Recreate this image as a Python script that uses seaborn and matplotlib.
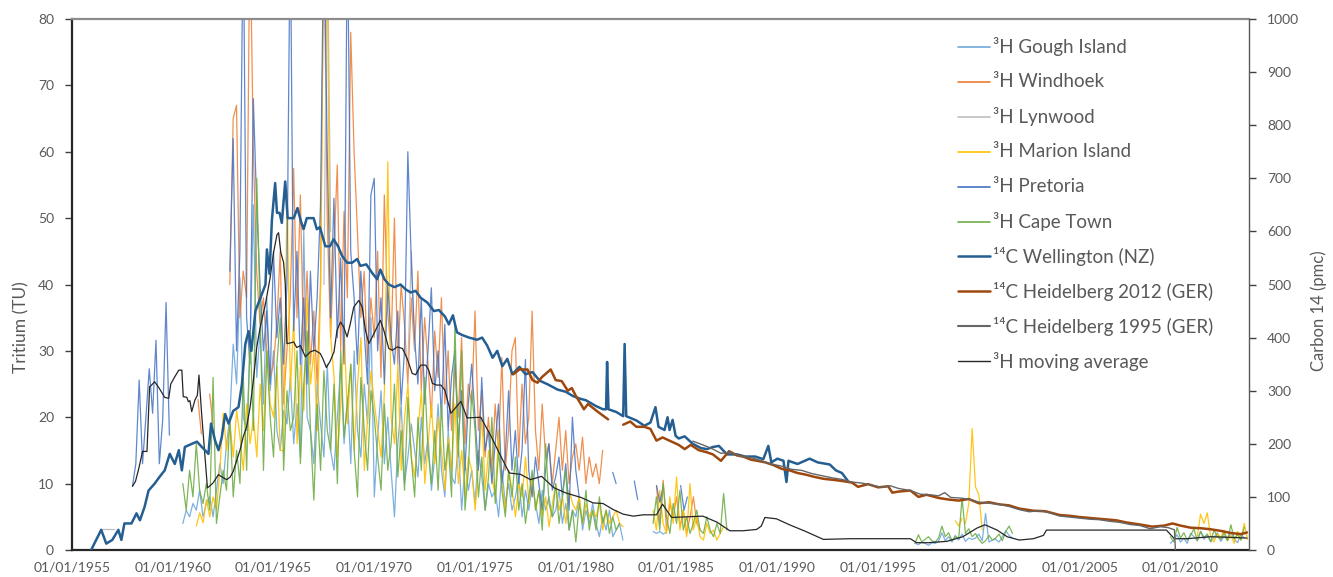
import numpy as np
import pandas as pd
import matplotlib
matplotlib.use("Agg")
import matplotlib.pyplot as plt
import seaborn as sns
from matplotlib.lines import Line2D

STEP = 1.0 / 6.0  # bimonthly tritium samples

# ---------------- Tritium (TU), segments of bimonthly values ----------------
gough_start = [1960.5, 1983.83, 1996.83, 2009.5]
gough_tu = [
    [4, 6, 5,
     7, 6, 9, 5, 7, 8,
     5, 9, 13, 10, 16, 20,
     31, 25, 41, 20, 18, 30,
     52, 26, 33, 22, 38, 24,
     30, 18, 15, 21, 19, 26,
     16, 22, 14, 48, 20, 18,
     13, 25, 19, 14, 28, 15,
     12, 20, 28, 16, 23, 13,
     30, 18, 14, 25, 19, 35,
     8, 17, 24, 13, 20, 12,
     5, 16, 22, 10, 14, 19,
     15, 11, 20, 13, 17, 9,
     14, 22, 12, 8, 18, 11,
     10, 16, 6, 13, 9, 12,
     7, 15, 11, 6, 10, 8,
     9, 5, 12, 7, 10, 6,
     8, 11, 5, 9, 6, 10,
     7, 4, 9, 6, 8, 5,
     6, 9, 4, 7, 3, 6,
     5, 8, 3, 6, 4, 7,
     4, 2, 5, 3, 6, 2,
     3, 4, 1.5],
    [2.8, 2.5, 2.8, 2.4, 2.7],
    [1.0, 0.8, 1.2, 1.0, 0.7, 1.1,
     1.0, 1.3, 2.6, 1.4, 2.0, 1.2,
     2.2, 1.5, 2.4, 1.3, 1.8, 1.6,
     1.8, 2.4, 1.4, 5.5, 1.2, 1.5,
     1.6, 1.2, 2.0, 2.9, 2.2, 1.8],
    [1.0, 1.5, 2.3, 1.2, 1.8, 1.0, 2.5, 2.0, 1.4, 2.8, 1.6, 2.2,
     1.2, 1.9, 2.6, 1.3, 2.1, 1.5, 2.7, 1.6, 1.1, 2.4, 1.8],
]

windhoek_start = [1961.25, 1961.83, 1962.83, 1984.0]
windhoek_tu = [
    [22.7, 17.5],
    [23.5, 19],
    [40,
     65, 67, 35, 42, 38, 95,
     60, 42, 34, 38, 30, 26,
     28, 34, 45, 22, 30, 38,
     57.5, 35, 53.5, 30, 42, 28,
     36, 25, 40, 95, 50, 32,
     45, 58, 30, 51, 38, 78,
     60, 48, 35, 42, 28, 38,
     32, 45, 26, 53.5, 36, 30,
     50, 28, 40, 34, 25, 38,
     30, 42, 24, 35, 28, 20,
     33, 26, 38, 22, 30, 18,
     28, 20, 32, 16, 25, 22,
     36, 18, 24, 14, 20, 12,
     22, 15, 29, 12, 18, 30,
     32, 14, 25, 16, 20, 36,
     18, 12, 22, 14, 16, 10,
     15, 20, 12, 18, 10, 14,
     16, 12, 17, 10, 14, 11,
     13, 10, 15],
    [9.7, 4, 10.5, 3, 7, 5, 8, 3.5, 6, 2.5, 5, 8, 4, 3],
]

lynwood_start = [1956.4, 1967.5, 1971.67]
lynwood_tu = [
    [3.1, 3.1, 3.1, 3.1, 3.1],
    [40, 95, 48],
    [28, 45, 30],
]

marion_start = [1961.17, 1983.83, 1998.83, 1999.33, 2010.83]
marion_tu = [
    [3.6, 5.6, 4.1, 7.6, 5.0,
     8, 6, 12, 20.6, 15, 19,
     14, 21, 17, 12, 22, 16,
     20, 14, 25, 18, 30, 22,
     20, 27.6, 15, 15, 54, 24,
     35, 16, 28, 21, 38, 25,
     30, 18, 40, 95, 85, 32,
     26, 14, 22, 34, 19, 28,
     15, 25, 32, 12, 20, 27,
     22, 18, 14, 24, 58.5, 20,
     16, 28, 12, 20, 25, 14,
     11, 18, 24, 10, 16, 22,
     13, 20, 15, 9, 17, 12,
     22, 10, 15, 8, 14, 12,
     6, 13, 20, 9, 15, 11,
     8, 18, 10, 6, 12, 9,
     5, 10, 8, 14, 7, 11,
     6, 9, 5, 8, 3.5, 7,
     10, 6, 8, 4, 9, 7,
     6, 8, 4, 7, 5, 6,
     5, 7, 3, 6, 4, 5,
     6, 4, 3.5],
    [6, 3, 9, 4, 2.5, 8, 4, 11, 3, 6, 2, 10, 3, 5, 2, 1.5, 4, 2.5, 3, 1.5, 2.5, 3.5],
    [4.4, 3.6, 4.8],
    [4.0, 7.0, 18.3, 9.5, 8.3, 3.0],
    [2.0, 5.4, 4.0, 5.6, 2.0, 1.2, 2.5, 1.8, 3.0, 1.4, 2.2, 1.0, 2.8, 1.5, 4.0, 1.6],
]

pretoria_start = [1958.0, 1962.83, 1981.83, 1982.9, 1984.0, 1985.2]
pretoria_tu = [
    [9.6, 13, 25.6, 13, 20, 27.3, 20.6, 31.6, 13, 19.6, 37.3, 17.3],
    [42,
     62, 30, 45, 95, 35, 28,
     68, 52, 40, 30, 36, 25,
     45, 32, 38, 28, 40, 95,
     33, 45, 28, 38, 25, 42,
     30, 38, 52, 95, 60, 35,
     53, 32, 44, 28, 95, 45,
     38, 28, 42, 33, 25, 53.5,
     56, 30, 38, 25, 40, 32,
     28, 36, 22, 30, 60, 44,
     32, 25, 38, 22, 30, 39.5,
     24, 30, 20, 34, 18, 26,
     30, 16, 24, 12, 22, 28,
     20, 12, 26, 15, 18, 10,
     16, 22, 10, 14, 24, 12,
     18, 10, 15, 28.7, 12, 8,
     14, 10, 6, 12, 16, 9,
     11, 14, 8, 13, 6, 20,
     12, 8],
    [11.7, 10],
    [10.4, 7.6],
    [9.7, 7.2, 9.5],
    [9.7, 6.0, 8.0],
]

capetown_start = [1960.5, 1983.83, 1996.83, 2009.5]
capetown_tu = [
    [10, 6, 12,
     8, 16, 9, 7, 10, 6,
     26, 4, 8, 12, 9, 20,
     8, 15, 10, 26, 12, 33,
     18, 56, 36, 12, 30, 20,
     14, 28, 35, 12, 24, 18,
     20, 30, 13, 25, 33, 18,
     7.5, 22, 12, 27, 18, 15,
     25, 10, 30, 17, 22, 28,
     15, 8, 26, 18, 12, 24,
     20, 14, 9, 22, 12, 16,
     25, 11, 18, 9, 23, 14,
     8, 20, 12, 26, 15, 10,
     18, 9, 22, 12, 16, 8,
     34, 14, 30, 6, 12, 24,
     18, 8, 14, 6, 11, 20,
     7, 15, 9, 5, 12, 8,
     14, 6, 10, 4, 8, 12,
     6, 9, 3, 16, 7, 5,
     10, 4, 8, 12, 3, 6,
     1.2, 7, 4, 9, 3, 6,
     3, 8, 4, 6, 2.5, 5,
     3, 4],
    [4, 8, 3, 10, 5, 2.5, 7, 4, 9, 3, 5, 2.5, 4, 6, 3, 2.5, 5, 3, 2, 4, 2.5, 8.5, 3],
    [1.0, 2.3, 1.2, 1.6, 2.0, 1.4,
     1.2, 1.8, 3.6, 2.0, 2.6, 1.4,
     2.0, 1.8, 7.8, 2.5, 3.2, 2.0,
     2.5, 1.6, 1.0, 1.4, 2.2, 1.5,
     1.8, 2.4, 1.4, 2.8, 3.6, 2.5],
    [2.0, 1.2, 3.4, 1.8, 2.6, 1.5, 2.2, 3.2, 1.4, 2.8, 1.9, 2.4,
     1.3, 3.0, 2.0, 1.6, 2.6, 1.4, 3.8, 1.7, 2.3, 1.5, 3.4],
]

# ---------------- 3H moving average (TU) ----------------
ma_year = [1958.0, 1958.15, 1958.3, 1958.5, 1958.72, 1958.85, 1958.95, 1959.1, 1959.3, 1959.6,
           1959.8, 1959.9, 1960.1, 1960.3, 1960.45, 1960.52, 1960.7, 1960.77, 1960.85, 1960.94,
           1961.1, 1961.22, 1961.3, 1961.43, 1961.55, 1961.72, 1962.0, 1962.26, 1962.5, 1962.68,
           1962.85, 1963.0, 1963.18, 1963.34, 1963.5, 1963.67, 1963.84, 1964.0, 1964.17, 1964.34,
           1964.6, 1964.83, 1965.0, 1965.17, 1965.25, 1965.36, 1965.5, 1965.58, 1965.66, 1965.85,
           1966.0, 1966.15, 1966.33, 1966.58, 1966.82, 1967.05, 1967.32, 1967.45, 1967.62, 1967.8,
           1968.0, 1968.15, 1968.32, 1968.48, 1968.65, 1968.81, 1968.98, 1969.23, 1969.4, 1969.56,
           1969.73, 1969.9, 1970.14, 1970.3, 1970.47, 1970.72, 1970.9, 1971.14, 1971.4, 1971.63,
           1971.88, 1972.05, 1972.3, 1972.55, 1972.7, 1972.88, 1973.1, 1973.3, 1973.5, 1973.8,
           1974.3, 1974.6, 1975.28, 1975.8, 1976.2, 1976.7, 1977.25, 1977.75, 1978.3, 1978.9,
           1979.5, 1980.27, 1980.85, 1981.35, 1981.85, 1982.35, 1982.85, 1983.35, 1984.0, 1984.3,
           1984.75, 1985.5, 1986.3, 1987.0, 1987.64, 1988.3, 1988.97, 1989.2, 1989.38, 1989.95,
           1990.6, 1991.4, 1992.28, 1993.6, 1995.26, 1996.6, 1996.9, 1997.5, 1998.4, 1999.2,
           1999.9, 2000.3, 2000.9, 2001.4, 2002.0, 2002.7, 2003.2, 2003.35, 2009.3, 2009.7,
           2010.3, 2011.5, 2012.5, 2013.3]
ma_tu = [9.6, 10.35, 12.1, 14.85, 14.85, 24.6, 24.85, 25.35, 24.5, 23.0,
         22.85, 25.0, 26.1, 27.1, 27.1, 23.1, 23.0, 22.35, 22.5, 20.85,
         22.6, 23.3, 26.35, 20.6, 16.0, 9.35, 10.1, 11.35, 10.9, 10.6,
         11.0, 11.85, 13.6, 15.1, 17.1, 18.6, 21.6, 25.6, 30.6, 33.6,
         37.1, 41.0, 44.8, 47.5, 47.8, 44.8, 43.3, 40.2, 31.1, 31.2,
         31.35, 30.5, 30.8, 29.1, 29.85, 30.1, 29.6, 28.8, 27.5, 28.4,
         29.85, 33.1, 34.35, 33.6, 32.1, 34.1, 36.6, 37.6, 36.6, 33.1,
         31.1, 32.1, 33.6, 34.6, 33.1, 30.35, 30.1, 30.6, 30.35, 28.85,
         26.6, 26.4, 27.85, 27.85, 27.1, 25.1, 24.85, 24.85, 24.1, 20.6,
         22.4, 19.9, 20.0, 17.1, 14.6, 11.6, 11.4, 10.6, 11.1, 9.4,
         8.6, 7.9, 7.1, 7.0, 6.1, 5.4, 5.1, 5.3, 5.3, 6.9,
         4.9, 5.0, 5.1, 4.2, 2.9, 2.9, 3.1, 3.6, 4.9, 4.7,
         3.8, 2.8, 1.6, 1.7, 1.7, 1.7, 1.1, 1.1, 1.3, 2.0,
         3.3, 3.8, 3.0, 2.0, 1.5, 1.7, 2.2, 3.0, 3.0, 1.7,
         1.7, 2.0, 1.9, 1.8]

# ---------------- Carbon 14 (pmc) ----------------
well_year = [1955.95, 1956.2, 1956.45, 1956.7, 1957.0, 1957.3, 1957.45, 1957.6, 1957.95, 1958.2,
             1958.37, 1958.6, 1958.8, 1959.1, 1959.35, 1959.6, 1959.85, 1960.1, 1960.3, 1960.45,
             1960.6, 1960.95, 1961.2, 1961.44, 1961.6, 1961.77, 1961.9, 1962.1, 1962.27, 1962.43,
             1962.6, 1962.77, 1963.0, 1963.26, 1963.43, 1963.6, 1963.76, 1963.9, 1964.1, 1964.35,
             1964.6, 1964.67, 1964.8, 1964.92, 1965.08, 1965.17, 1965.3, 1965.41, 1965.58, 1965.7,
             1965.85, 1966.0, 1966.19, 1966.35, 1966.49, 1966.65, 1966.8, 1966.99, 1967.15, 1967.3,
             1967.57, 1967.8, 1967.98, 1968.2, 1968.4, 1968.65, 1968.9, 1969.15, 1969.31, 1969.6,
             1969.89, 1970.14, 1970.3, 1970.5, 1970.72, 1971.0, 1971.3, 1971.55, 1971.8, 1972.05,
             1972.3, 1972.63, 1972.96, 1973.2, 1973.5, 1973.7, 1973.9, 1974.1, 1974.35, 1974.7,
             1975.1, 1975.35, 1975.6, 1975.87, 1976.1, 1976.35, 1976.6, 1976.85, 1977.2, 1977.5,
             1977.85, 1978.2, 1978.6, 1979.1, 1979.5, 1979.85, 1980.2, 1980.5, 1981.0, 1981.35,
             1981.5, 1981.55, 1981.62, 1982.0, 1982.35, 1982.42, 1982.5, 1983.0, 1983.4, 1983.7,
             1983.95, 1984.1, 1984.4, 1984.55, 1984.65, 1984.8, 1984.95, 1985.1, 1985.4, 1985.8,
             1986.2, 1986.5, 1986.8, 1987.1, 1987.5, 1988.0, 1988.4, 1988.9, 1989.3, 1989.55,
             1989.7, 1990.0, 1990.3, 1990.45, 1990.55, 1991.0, 1991.6, 1992.0, 1992.6, 1992.9,
             1993.2, 1993.5]
well_pmc = [0, 19, 38, 12, 19, 38, 19, 50, 50, 69,
            56, 81, 112, 125, 138, 150, 181, 162, 188, 150,
            194, 200, 204, 194, 188, 181, 238, 206, 188, 212,
            256, 238, 262, 269, 312, 388, 412, 375, 450, 475,
            500, 566, 520, 622, 691, 635, 635, 616, 694, 625,
            625, 625, 644, 620, 604, 625, 625, 625, 604, 608,
            572, 572, 585, 572, 554, 541, 541, 548, 535, 538,
            522, 510, 528, 510, 500, 495, 500, 491, 485, 488,
            475, 466, 450, 452, 440, 425, 442, 410, 405, 400,
            396, 400, 385, 362, 375, 346, 360, 331, 345, 331,
            335, 319, 312, 302, 298, 290, 285, 282, 271, 265,
            265, 354, 265, 260, 252, 388, 252, 244, 234, 240,
            269, 232, 226, 250, 226, 245, 215, 210, 214, 200,
            192, 190, 194, 196, 180, 180, 176, 176, 171, 196,
            165, 172, 168, 128, 168, 162, 172, 165, 161, 150,
            145, 130]

h12_year = [1976.9, 1977.2, 1977.6, 1977.85, 1978.1, 1978.3, 1978.75, 1979.0, 1979.3, 1979.6,
            1979.8, 1980.0, 1980.2, 1980.4, 1980.6, 1981.1, 1981.6, 1982.35, 1982.7, 1983.0,
            1983.4, 1983.7, 1984.0, 1984.3, 1984.7, 1985.1, 1985.4, 1985.7, 1986.1, 1986.5,
            1986.8, 1987.2, 1987.6, 1988.0, 1988.3, 1988.7, 1989.0, 1989.4, 1989.8, 1990.2,
            1990.6, 1991.0, 1991.4, 1991.8, 1992.3, 1992.8, 1993.2, 1993.7, 1994.0, 1994.5,
            1995.0, 1995.5, 1995.7, 1996.0, 1996.6, 1997.0, 1997.4, 1998.0, 1998.5, 1999.0,
            1999.5, 2000.0, 2000.5, 2001.0, 2001.5, 2002.0, 2002.7, 2003.3, 2004.0, 2004.6,
            2005.0, 2005.6, 2006.2, 2006.8, 2007.3, 2008.0, 2008.6, 2009.2, 2009.6, 2010.0,
            2010.5, 2011.0, 2011.5, 2012.0, 2012.5, 2013.0, 2013.3]
h12_pmc = [331, 340, 340, 320, 315, 325, 340, 320, 318, 300,
           305, 290, 278, 265, 275, 260, 246, 236, 242, 232,
           232, 228, 206, 212, 205, 198, 190, 198, 188, 184,
           180, 168, 186, 178, 176, 170, 168, 165, 160, 153,
           150, 145, 142, 138, 134, 132, 130, 127, 119, 124,
           118, 120, 108, 110, 112, 100, 104, 98, 95, 93,
           96, 88, 90, 86, 84, 78, 74, 73, 66, 64,
           62, 60, 58, 56, 52, 48, 44, 46, 50, 46,
           42, 41, 39, 36, 32, 30, 33]
h12_gap_after = 1981.6

h95_year = [1985.8, 1986.3, 1986.8, 1987.2, 1987.7, 1988.2, 1988.7, 1989.2, 1989.7, 1990.2,
            1990.7, 1991.2, 1991.7, 1992.2, 1992.7, 1993.2, 1993.7, 1994.2, 1994.7, 1995.2,
            1995.6, 1996.0, 1996.6, 1997.1, 1997.6, 1998.0, 1998.3, 1998.6, 1999.0, 1999.5,
            2000.0, 2000.5, 2001.0, 2001.5, 2002.0, 2002.5, 2003.0, 2003.5, 2004.0, 2004.5,
            2005.0, 2005.5, 2006.0, 2006.5, 2007.0, 2007.5, 2008.0, 2008.5, 2009.0, 2009.4,
            2009.7, 2009.75]
h95_pmc = [205, 198, 190, 182, 184, 176, 174, 168, 162, 158,
           152, 150, 144, 140, 136, 133, 128, 126, 122, 118,
           121, 116, 112, 105, 104, 102, 108, 99, 98, 96,
           90, 88, 86, 82, 76, 72, 74, 70, 64, 62,
           60, 58, 57, 54, 52, 48, 46, 40, 44, 42,
           38, 0]

x_tick_years = list(range(1955, 2011, 5))
x_tick_labels = [f"01/01/{y}" for y in x_tick_years]

labels = ["³H Gough Island", "³H Windhoek", "³H Lynwood", "³H Marion Island",
          "³H Pretoria", "³H Cape Town", "¹⁴C Wellington (NZ)",
          "¹⁴C Heidelberg 2012 (GER)", "¹⁴C Heidelberg 1995 (GER)", "³H moving average"]


def seg_frame(starts, values):
    rows = []
    for s_id, (s, vals) in enumerate(zip(starts, values)):
        for i, v in enumerate(vals):
            rows.append((s + i * STEP, v, s_id))
    return pd.DataFrame(rows, columns=["year", "value", "seg"])


def xy_frame(years, vals, gap_after=None):
    df = pd.DataFrame({"year": years, "value": vals})
    df["seg"] = 0 if gap_after is None else (df["year"] > gap_after).astype(int)
    return df


sns.set_style("white")
plt.rcParams["font.family"] = ["Lato", "DejaVu Sans"]

W, H = 1333, 577
fig = plt.figure(figsize=(W / 100, H / 100), dpi=100)
ax = fig.add_axes([72 / W, 1 - 550 / H, (1249 - 72) / W, (550 - 19) / H])
ax2 = ax.twinx()

c_gough, c_wind, c_lyn, c_mar = "#6FA8DC", "#ED7D31", "#BFBFBF", "#FFC000"
c_pre, c_cape, c_well, c_h12, c_h95, c_ma = "#4472C4", "#70AD47", "#255E91", "#9E480E", "#666666", "#262626"
lw_t = 0.9


def draw(axis, df, color, lw, z, alpha=1.0):
    sns.lineplot(data=df, x="year", y="value", units="seg", estimator=None, sort=False,
                 color=color, linewidth=lw, ax=axis, legend=False, zorder=z, alpha=alpha)


draw(ax, seg_frame(gough_start, gough_tu), c_gough, lw_t, 2, 0.9)
draw(ax, seg_frame(windhoek_start, windhoek_tu), c_wind, lw_t, 2, 0.85)
draw(ax, seg_frame(lynwood_start, lynwood_tu), c_lyn, lw_t, 2)
draw(ax, seg_frame(marion_start, marion_tu), c_mar, lw_t, 2, 0.9)
draw(ax, seg_frame(pretoria_start, pretoria_tu), c_pre, lw_t, 2, 0.85)
draw(ax, seg_frame(capetown_start, capetown_tu), c_cape, lw_t, 2, 0.9)
draw(ax, xy_frame(ma_year, ma_tu), c_ma, 0.9, 5)

draw(ax2, xy_frame(well_year, well_pmc), c_well, 1.8, 3)
draw(ax2, xy_frame(h12_year, h12_pmc, h12_gap_after), c_h12, 1.8, 3)
draw(ax2, xy_frame(h95_year, h95_pmc), c_h95, 1.0, 4)

ax.set_xlim(1955, 2013.4)
ax.set_ylim(0, 80)
ax2.set_ylim(0, 1000)
ax.set_xticks(x_tick_years)
ax.set_xticklabels(x_tick_labels)
ax.set_yticks(range(0, 81, 10))
ax2.set_yticks(range(0, 1001, 100))

tick_col = "#595959"
ax.tick_params(axis="x", direction="out", length=5, width=1, color="#404040",
               labelsize=10, labelcolor=tick_col, pad=3)
ax.tick_params(axis="y", direction="out", length=5, width=1, color="#404040",
               labelsize=10, labelcolor=tick_col, pad=8)
ax2.tick_params(axis="y", direction="out", length=5, width=1, color="#404040",
                labelsize=10, labelcolor=tick_col, pad=8)

ax.set_ylabel("Tritium (TU)", fontsize=12.5, color=tick_col)
ax.yaxis.set_label_coords(-0.0365, 0.42)
ax2.set_ylabel("Carbon 14 (pmc)", fontsize=12, color=tick_col, rotation=90)
ax2.yaxis.set_label_coords(1.052, 0.45)
ax.set_xlabel("")

for a in (ax, ax2):
    for s in a.spines.values():
        s.set_visible(False)
ax.spines["left"].set_visible(True)
ax.spines["left"].set_color("#262626")
ax.spines["left"].set_linewidth(1.6)
ax.spines["bottom"].set_visible(True)
ax.spines["bottom"].set_color("#262626")
ax.spines["bottom"].set_linewidth(1.6)
ax.spines["top"].set_visible(True)
ax.spines["top"].set_color("#8C8C8C")
ax.spines["top"].set_linewidth(1.6)
ax2.spines["right"].set_visible(True)
ax2.spines["right"].set_color("#595959")
ax2.spines["right"].set_linewidth(1.0)

# legend drawn as evenly spaced rows (Excel-style)
leg_colors = [c_gough, c_wind, c_lyn, c_mar, c_pre, c_cape, c_well, c_h12, c_h95, c_ma]
leg_widths = [1.2, 1.2, 1.2, 1.2, 1.2, 1.2, 1.8, 1.8, 1.5, 1.0]
leg_x0, leg_x1, leg_tx, leg_y0, leg_dy = 958, 990, 993, 47, 34.9
for i, (lab, col, lw) in enumerate(zip(labels, leg_colors, leg_widths)):
    yy = 1 - (leg_y0 + i * leg_dy) / H
    fig.add_artist(Line2D([leg_x0 / W, leg_x1 / W], [yy, yy], color=col, lw=lw,
                          transform=fig.transFigure))
    fig.text(leg_tx / W, yy, lab, fontsize=13.5, color=tick_col, va="center", ha="left")

fig.savefig("out.png", dpi=100)
